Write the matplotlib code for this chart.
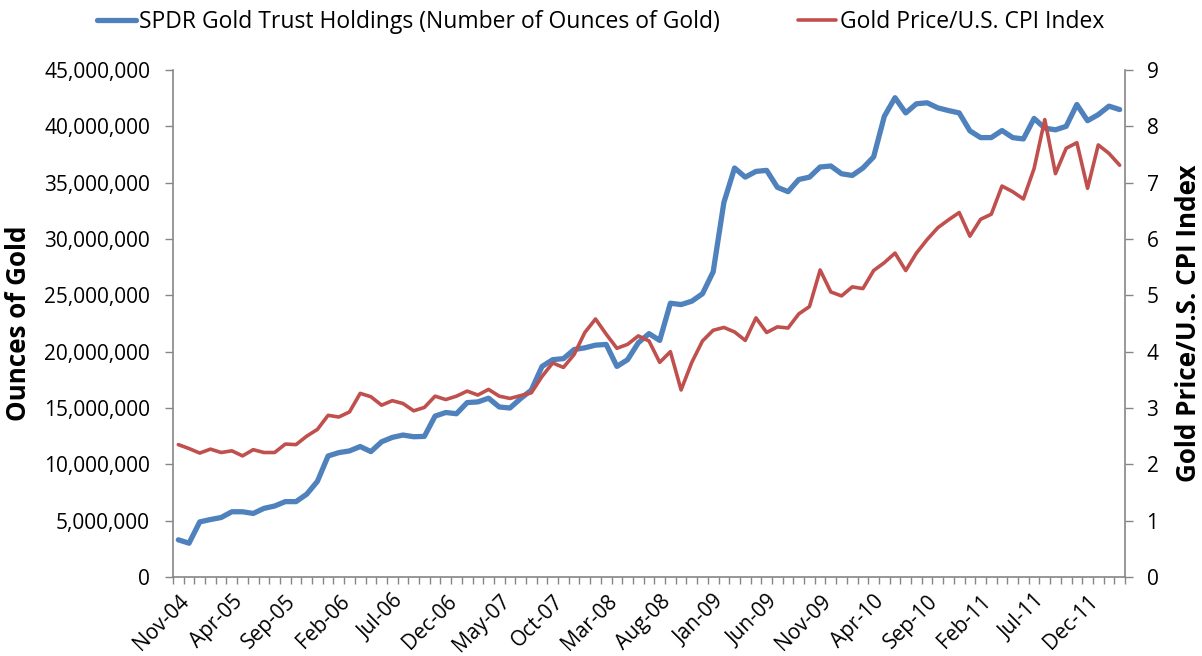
import matplotlib
matplotlib.use("Agg")
import matplotlib.pyplot as plt
from matplotlib.ticker import FuncFormatter, FixedLocator, MultipleLocator
import numpy as np

months = ["Nov-04","Dec-04","Jan-05","Feb-05","Mar-05","Apr-05","May-05","Jun-05","Jul-05","Aug-05","Sep-05","Oct-05",
          "Nov-05","Dec-05","Jan-06","Feb-06","Mar-06","Apr-06","May-06","Jun-06","Jul-06","Aug-06","Sep-06","Oct-06",
          "Nov-06","Dec-06","Jan-07","Feb-07","Mar-07","Apr-07","May-07","Jun-07","Jul-07","Aug-07","Sep-07","Oct-07",
          "Nov-07","Dec-07","Jan-08","Feb-08","Mar-08","Apr-08","May-08","Jun-08","Jul-08","Aug-08","Sep-08","Oct-08",
          "Nov-08","Dec-08","Jan-09","Feb-09","Mar-09","Apr-09","May-09","Jun-09","Jul-09","Aug-09","Sep-09","Oct-09",
          "Nov-09","Dec-09","Jan-10","Feb-10","Mar-10","Apr-10","May-10","Jun-10","Jul-10","Aug-10","Sep-10","Oct-10",
          "Nov-10","Dec-10","Jan-11","Feb-11","Mar-11","Apr-11","May-11","Jun-11","Jul-11","Aug-11","Sep-11","Oct-11",
          "Nov-11","Dec-11","Jan-12","Feb-12","Mar-12"]

# SPDR holdings, millions of ounces
spdr_holdings_m = [3.3, 3.0, 4.89, 5.1, 5.28, 5.79, 5.79, 5.64, 6.09, 6.3, 6.69, 6.69,
                   7.35, 8.49, 10.74, 11.04, 11.19, 11.58, 11.13, 12.0, 12.39, 12.6, 12.45, 12.48,
                   14.28, 14.6, 14.49, 15.48, 15.54, 15.87, 15.09, 15.0, 15.84, 16.59, 18.69, 19.29,
                   19.38, 20.19, 20.34, 20.58, 20.64, 18.69, 19.29, 20.79, 21.6, 21.0, 24.3, 24.18,
                   24.48, 25.14, 27.09, 33.24, 36.3, 35.49, 36.0, 36.09, 34.59, 34.2, 35.28, 35.49,
                   36.39, 36.48, 35.79, 35.64, 36.3, 37.29, 40.89, 42.54, 41.19, 42.0, 42.09, 41.64,
                   41.4, 41.19, 39.6, 39.0, 39.0, 39.63, 39.0, 38.88, 40.7, 39.84, 39.69, 40.0,
                   41.94, 40.5, 41.04, 41.79, 41.49]

gold_cpi = [2.35, 2.28, 2.2, 2.27, 2.21, 2.24, 2.15, 2.26, 2.21, 2.21, 2.36, 2.35,
            2.5, 2.62, 2.87, 2.84, 2.93, 3.26, 3.2, 3.05, 3.13, 3.08, 2.95, 3.01,
            3.21, 3.15, 3.21, 3.3, 3.23, 3.33, 3.21, 3.17, 3.22, 3.27, 3.56, 3.8,
            3.72, 3.95, 4.34, 4.58, 4.31, 4.06, 4.13, 4.28, 4.19, 3.81, 4.0, 3.32,
            3.81, 4.19, 4.38, 4.43, 4.35, 4.2, 4.6, 4.34, 4.44, 4.42, 4.67, 4.8,
            5.45, 5.06, 4.99, 5.15, 5.12, 5.44, 5.58, 5.75, 5.44, 5.75, 5.99, 6.2,
            6.34, 6.47, 6.05, 6.35, 6.44, 6.94, 6.84, 6.71, 7.25, 8.12, 7.16, 7.61,
            7.71, 6.9, 7.67, 7.52, 7.31]

left_label = "Ounces of Gold"
right_label = "Gold Price/U.S. CPI Index"
series_names = ["SPDR Gold Trust Holdings (Number of Ounces of Gold)", "Gold Price/U.S. CPI Index"]

plt.rcParams['font.family'] = ['Open Sans', 'DejaVu Sans']

BLUE = "#4F81BD"
RED = "#C0504D"
GRAY = "#868686"

fig = plt.figure(figsize=(12.02, 6.56), dpi=100)
ax = fig.add_axes([173/1202, 1-577/656, (1125-173)/1202, (577-70)/656])
ax2 = ax.twinx()

x = np.arange(len(months))
holdings = np.array(spdr_holdings_m) * 1e6
l1, = ax.plot(x, holdings, color=BLUE, lw=3.8, solid_joinstyle='round', solid_capstyle='round', zorder=3)
l2, = ax2.plot(x, gold_cpi, color=RED, lw=2.6, solid_joinstyle='round', solid_capstyle='round', zorder=3)

ax.set_xlim(-0.5, len(months) - 0.5)
ax.set_ylim(0, 45e6)
ax2.set_ylim(0, 9)
ax.yaxis.set_major_locator(MultipleLocator(5e6))
ax2.yaxis.set_major_locator(MultipleLocator(1))
ax.yaxis.set_major_formatter(FuncFormatter(lambda v, p: f"{int(v):,}"))
ax2.yaxis.set_major_formatter(FuncFormatter(lambda v, p: f"{int(v)}"))

label_idx = list(range(0, len(months), 5))
ax.xaxis.set_major_locator(FixedLocator(label_idx))
ax.set_xticklabels([months[i] for i in label_idx], rotation=45, ha='right',
                   rotation_mode='anchor', fontsize=15)
ax.xaxis.set_minor_locator(FixedLocator(np.arange(-0.5, len(months), 1)))
ax.tick_params(axis='x', which='major', length=0, pad=10)
ax.tick_params(axis='x', which='minor', length=5, color=GRAY, width=1)

ax.tick_params(axis='y', length=5.5, color=GRAY, width=1, labelsize=15, direction='out', pad=11)
ax2.tick_params(axis='y', length=5.5, color=GRAY, width=1, labelsize=15, direction='out', pad=10)

for a in (ax, ax2):
    a.spines['top'].set_visible(False)
    for s in ('left', 'right', 'bottom'):
        a.spines[s].set_color(GRAY)
        a.spines[s].set_linewidth(1.2)
ax.spines['right'].set_visible(False)
ax2.spines['left'].set_visible(False)
ax2.spines['bottom'].set_visible(False)

ax.set_ylabel(left_label, fontsize=18.7, fontweight='bold', labelpad=9)
ax2.set_ylabel(right_label, fontsize=18.7, fontweight='bold', labelpad=12)

fig.legend([l1, l2], series_names, loc='center', bbox_to_anchor=(0.5, 1 - 22/656),
           ncol=2, frameon=False, fontsize=16.5, handlelength=1.66, handletextpad=0.17,
           columnspacing=3.4, borderpad=0, borderaxespad=0)

fig.savefig("out.png", dpi=100)
